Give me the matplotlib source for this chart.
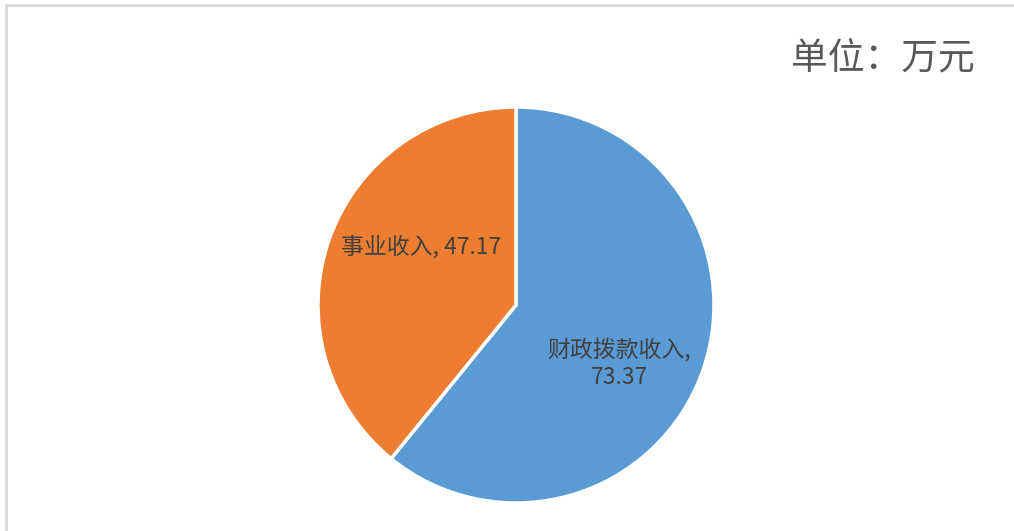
import matplotlib
matplotlib.use("Agg")
from matplotlib import pyplot as plt
from matplotlib.patches import Rectangle

plt.rcParams['font.family'] = ['Noto Sans CJK SC', 'DejaVu Sans']

categories = ['财政拨款收入', '事业收入']
values = [73.37, 47.17]
colors = ['#5B9BD5', '#ED7D31']
unit_text = '单位：万元'

W, H = 1014, 531
fig = plt.figure(figsize=(W / 100, H / 100), dpi=100)

# chart border (light gray frame, cut off at right/bottom)
fig.patches.append(Rectangle((6 / W, -0.1), 1.2, 1 - 5 / H + 0.1, transform=fig.transFigure,
                             fill=False, edgecolor='#D9D9D9', linewidth=2))

cx, cy, r = 516, 531 - 305, 198
ax = fig.add_axes([(cx - r) / W, (cy - r) / H, 2 * r / W, 2 * r / H])
wedges, _ = ax.pie(values, colors=colors, startangle=90, counterclock=False,
                   wedgeprops=dict(edgecolor='white', linewidth=2.5))
ax.set_xlim(-1, 1)
ax.set_ylim(-1, 1)
ax.set_aspect('equal')
ax.axis('off')

# data labels
ax.text(103 / r, -58 / r, f'{categories[0]},\n{values[0]:.2f}', ha='center', va='center',
        fontsize=16.5, color='#404040', linespacing=1.25)
ax.text(-95 / r, 58 / r, f'{categories[1]}, {values[1]:.2f}', ha='center', va='center',
        fontsize=16.5, color='#404040')

fig.text(883 / W, 1 - 59 / H, unit_text, ha='center', va='center', fontsize=26.5,
         color='#595959', fontweight='light')

fig.savefig('out.png', dpi=100)
